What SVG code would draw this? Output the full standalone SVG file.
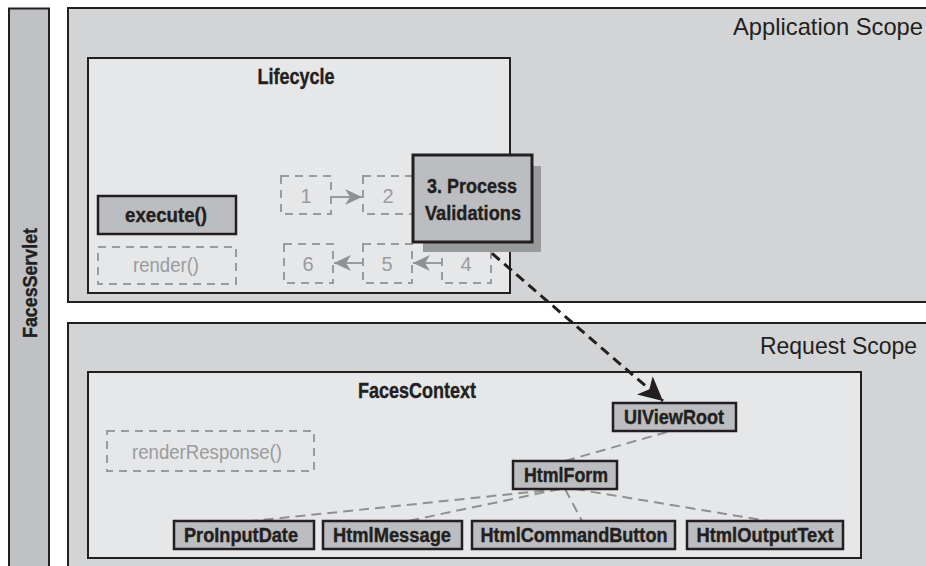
<svg xmlns="http://www.w3.org/2000/svg" width="926" height="566" viewBox="0 0 926 566">
  <style>
    text { font-family: "Liberation Sans", Arial, sans-serif; }
    .scope { fill: #d3d4d6; stroke: #231f20; stroke-width: 2; }
    .inner { fill: #e6e7e8; stroke: #231f20; stroke-width: 2; }
    .comp { fill: #bcbdc0; stroke: #231f20; stroke-width: 2.5; }
    .ghost { fill: none; stroke: #9a9b9d; stroke-width: 2; stroke-dasharray: 8 6; }
    .title { font-weight: bold; font-size: 21.5px; fill: #231f20; text-anchor: middle; stroke: #231f20; stroke-width: 0.4; }
    .label { font-weight: bold; font-size: 19.5px; fill: #231f20; text-anchor: middle; stroke: #231f20; stroke-width: 0.4; }
    .glabel { font-size: 20px; fill: #9a9b9d; text-anchor: middle; }
    .scopelbl { font-size: 24px; fill: #231f20; text-anchor: end; }
    .tree { stroke: #8f9092; stroke-width: 2; stroke-dasharray: 10 6; fill: none; }
    .step { stroke: #9a9b9d; stroke-width: 2; fill: none; }
  </style>
  <defs>
    <marker id="ghostHead" markerWidth="18" markerHeight="16" refX="17" refY="8" orient="auto" markerUnits="userSpaceOnUse">
      <path d="M0,0 L17,8 L0,16 L5,8 Z" fill="#8f9092"/>
    </marker>
    <marker id="blackHead" markerWidth="26" markerHeight="24" refX="24" refY="12" orient="auto" markerUnits="userSpaceOnUse">
      <path d="M0,0 L24,12 L0,24 L6,12 Z" fill="#231f20"/>
    </marker>
  </defs>

  <rect width="926" height="566" fill="#ffffff"/>

  <!-- servlet column -->
  <g id="facesServlet">
    <rect x="9" y="8.5" width="40" height="570" fill="#c0c1c4" stroke="#231f20" stroke-width="2"/>
    <text class="title" style="font-size:20px" transform="translate(36.5,283) rotate(-90)" textLength="110" lengthAdjust="spacingAndGlyphs">FacesServlet</text>
  </g>

  <!-- application scope -->
  <g id="applicationScope">
    <rect class="scope" x="68" y="8" width="870" height="294"/>
    <text class="scopelbl" x="923" y="35" textLength="190" lengthAdjust="spacingAndGlyphs">Application Scope</text>
  </g>

  <!-- request scope -->
  <g id="requestScope">
    <rect class="scope" x="68" y="323" width="870" height="260"/>
    <text class="scopelbl" x="917" y="354" textLength="157" lengthAdjust="spacingAndGlyphs">Request Scope</text>
  </g>

  <!-- lifecycle -->
  <g id="lifecycle">
    <rect class="inner" x="88" y="58" width="422" height="235"/>
    <text class="title" x="296" y="83.5" textLength="77" lengthAdjust="spacingAndGlyphs">Lifecycle</text>
  </g>

  <g id="execute">
    <rect class="comp" x="98" y="196" width="138" height="38"/>
    <text class="label" x="166" y="222" textLength="82" lengthAdjust="spacingAndGlyphs">execute()</text>
  </g>

  <g id="render">
    <rect class="ghost" x="98" y="247" width="138" height="37"/>
    <text class="glabel" x="166" y="272" textLength="66" lengthAdjust="spacingAndGlyphs">render()</text>
  </g>

  <g id="step1">
    <rect class="ghost" x="281" y="176" width="50" height="38"/>
    <text class="glabel" x="306" y="203">1</text>
  </g>
  <g id="step2">
    <rect class="ghost" x="363" y="176" width="50" height="38"/>
    <text class="glabel" x="388" y="203">2</text>
  </g>
  <g id="step4">
    <rect class="ghost" x="442" y="244" width="49" height="39"/>
    <text class="glabel" x="466" y="271">4</text>
  </g>
  <g id="step5">
    <rect class="ghost" x="363" y="244" width="49" height="39"/>
    <text class="glabel" x="387" y="271">5</text>
  </g>
  <g id="step6">
    <rect class="ghost" x="284" y="244" width="49" height="39"/>
    <text class="glabel" x="308" y="271">6</text>
  </g>

  <!-- faces context -->
  <g id="facesContext">
    <rect class="inner" x="88" y="372" width="773" height="186"/>
    <text class="title" x="417" y="398" textLength="118" lengthAdjust="spacingAndGlyphs">FacesContext</text>
  </g>

  <g id="renderResponse">
    <rect class="ghost" x="107" y="431" width="207" height="40"/>
    <text class="glabel" x="207" y="459" textLength="150" lengthAdjust="spacingAndGlyphs">renderResponse()</text>
  </g>

  <!-- connectors -->
  <g id="connectors">
    <path class="step" d="M331,197 L362,197" marker-end="url(#ghostHead)"/>
    <path class="step" d="M363,263 L334,263" marker-end="url(#ghostHead)"/>
    <path class="step" d="M442,263 L413,263" marker-end="url(#ghostHead)"/>
    <path class="tree" d="M667,432 L565,461"/>
    <path class="tree" d="M560,489 L252,521"/>
    <path class="tree" d="M560,489 L408,521"/>
    <path class="tree" d="M565,489 L582,521"/>
    <path class="tree" d="M575,489 L768,521"/>
    <path d="M480,243 L663,401" stroke="#231f20" stroke-width="3" stroke-dasharray="10 6" fill="none" marker-end="url(#blackHead)"/>
  </g>

  <!-- active phase -->
  <g id="processValidations">
    <rect x="423" y="166" width="118" height="86" fill="#98999b"/>
    <rect x="413" y="155" width="119" height="87" fill="#bcbdc0" stroke="#231f20" stroke-width="3"/>
    <text class="label" x="472" y="193" style="font-size:21px" textLength="90" lengthAdjust="spacingAndGlyphs">3. Process</text>
    <text class="label" x="473" y="220" style="font-size:21px" textLength="96" lengthAdjust="spacingAndGlyphs">Validations</text>
  </g>

  <!-- component tree -->
  <g id="uiViewRoot">
    <rect class="comp" x="613" y="403" width="123" height="28"/>
    <text class="label" x="674" y="424" textLength="100" lengthAdjust="spacingAndGlyphs">UIViewRoot</text>
  </g>
  <g id="htmlForm">
    <rect class="comp" x="513" y="461" width="104" height="28"/>
    <text class="label" x="566" y="482" textLength="84" lengthAdjust="spacingAndGlyphs">HtmlForm</text>
  </g>
  <g id="proInputDate">
    <rect class="comp" x="174" y="521" width="140" height="28"/>
    <text class="label" x="241" y="542" textLength="114" lengthAdjust="spacingAndGlyphs">ProInputDate</text>
  </g>
  <g id="htmlMessage">
    <rect class="comp" x="323" y="521" width="139" height="28"/>
    <text class="label" x="392" y="542" textLength="118" lengthAdjust="spacingAndGlyphs">HtmlMessage</text>
  </g>
  <g id="htmlCommandButton">
    <rect class="comp" x="472" y="521" width="203" height="28"/>
    <text class="label" x="574" y="542" textLength="187" lengthAdjust="spacingAndGlyphs">HtmlCommandButton</text>
  </g>
  <g id="htmlOutputText">
    <rect class="comp" x="687" y="521" width="156" height="28"/>
    <text class="label" x="765" y="542" textLength="137" lengthAdjust="spacingAndGlyphs">HtmlOutputText</text>
  </g>
</svg>
